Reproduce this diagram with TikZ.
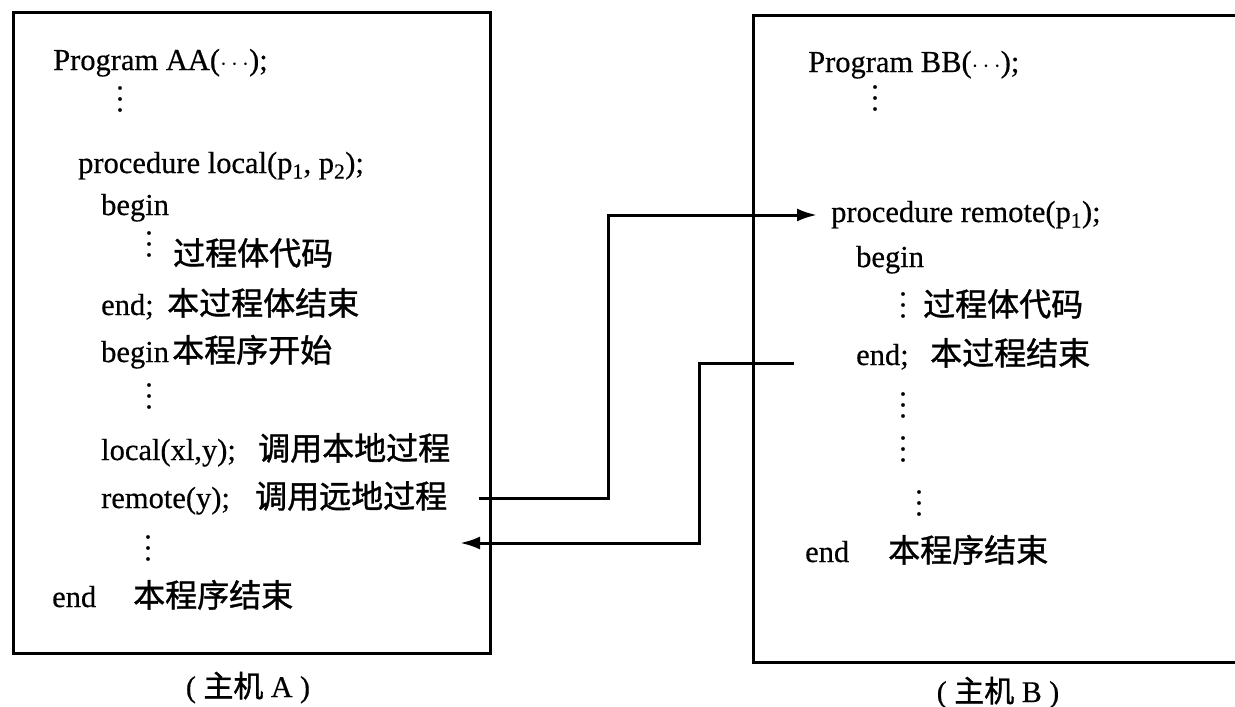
\documentclass[tikz,border=0pt]{standalone}
\usepackage{fontspec}
\setmainfont{Liberation Serif}[FakeBold=0.5]
\newfontfamily\cjk{Noto Sans CJK SC}[FakeBold=1.2]
\usetikzlibrary{arrows.meta}
\newcommand\mydots{\vbox{\baselineskip=11pt\lineskiplimit=-10pt\hbox{.}\hbox{.}\hbox{.}}}
\begin{document}
\begin{tikzpicture}[x=1pt,y=-1pt,
  txt/.style={anchor=base west, inner sep=0pt, font=\fontsize{30.5}{36}\selectfont},
  ctxt/.style={anchor=base west, inner sep=0pt, font=\fontsize{32}{36}\selectfont\cjk},
  captxt/.style={anchor=base, inner sep=0pt, font=\fontsize{30}{36}\selectfont},
  dotcol/.style={anchor=center, inner sep=0pt, font=\fontsize{30}{36}\selectfont},
  hostbox/.style={draw, line width=3pt},
  conn/.style={line width=3pt, -{Latex[length=20pt,width=13pt]}}]
\useasboundingbox (0,0) rectangle (1235,707);
% boxes
\draw[hostbox] (13,12) rectangle (490,653);
\draw[hostbox] (753,15) rectangle (1248,662);
% host A text
\node[txt] (a1) at (53,70) {Program AA($\cdots$);};
\node[dotcol] (a1d) at (120,99) {\mydots};
\node[txt] (a2) at (78,173) {procedure local(p\textsubscript{1}, p\textsubscript{2});};
\node[txt] (a3) at (101,215) {begin};
\node[dotcol] (a3d) at (149,244) {\mydots};
\node[ctxt] (a3c) at (173,265) {过程体代码};
\node[txt] (a4) at (101,315) {end;};
\node[ctxt] (a4c) at (167,315) {本过程体结束};
\node[txt] (a5) at (101,362) {begin};
\node[ctxt] (a5c) at (172,362) {本程序开始};
\node[dotcol] (a5d) at (149,396) {\mydots};
\node[txt] (a6) at (101,460) {local(xl,y);};
\node[ctxt] (a6c) at (258,460) {调用本地过程};
\node[txt] (a7) at (101,508) {remote(y);};
\node[ctxt] (a7c) at (255,508) {调用远地过程};
\node[dotcol] (a7d) at (148,548) {\mydots};
\node[txt] (a8) at (52,607) {end};
\node[ctxt] (a8c) at (133,607) {本程序结束};
\node[captxt] (capA) at (248,697) {( {\cjk 主机} A )};
% host B text
\node[txt] (b1) at (808,72) {Program BB($\cdots$);};
\node[dotcol] (b1d) at (875,98) {\mydots};
\node[txt] (b2) at (831,222) {procedure remote(p\textsubscript{1});};
\node[txt] (b3) at (856,267) {begin};
\node[dotcol] (b3d) at (903,305) {\mydots};
\node[ctxt] (b3c) at (923,316) {过程体代码};
\node[txt] (b4) at (856,365) {end;};
\node[ctxt] (b4c) at (930,365) {本过程结束};
\node[dotcol] (b4d) at (903,405) {\mydots};
\node[dotcol] (b5d) at (903,449) {\mydots};
\node[dotcol] (b6d) at (919,503) {\mydots};
\node[txt] (b7) at (805,562) {end};
\node[ctxt] (b7c) at (888,562) {本程序结束};
\node[captxt] (capB) at (998,702) {( {\cjk 主机} B )};
% connectors
\coordinate (s1) at (479,498);
\coordinate (k1) at (608,215);
\coordinate (s2) at (794,363);
\coordinate (k2) at (699,543);
\coordinate (e2) at (460,543);
\draw[conn] (s1) -| (k1) -- ([xshift=-14pt]k1 -| b2.west);
\draw[conn] (s2) -| (k2) -- (e2);
\end{tikzpicture}
\end{document}
